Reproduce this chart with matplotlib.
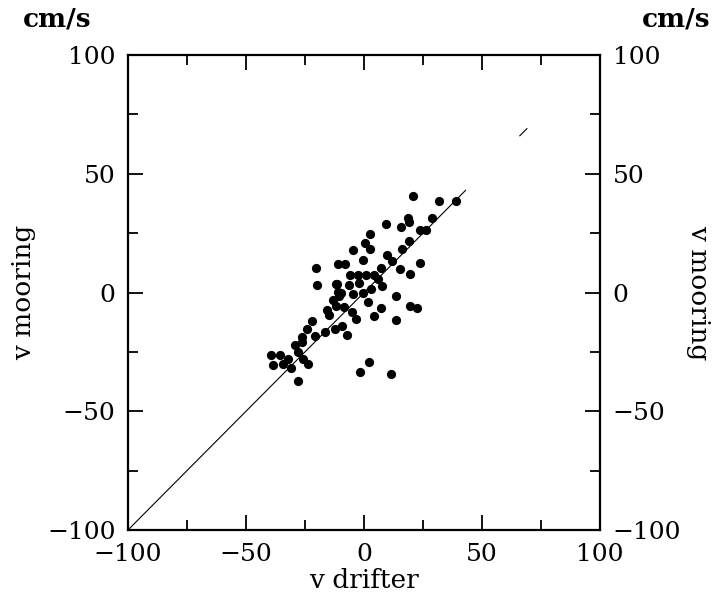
import matplotlib
matplotlib.use("Agg")
import matplotlib.pyplot as plt
from matplotlib.ticker import MultipleLocator

# Data (cm/s)
v_drifter = [20.7, 31.6, 39.1, 29.0, 18.7, 15.8, 19.0, 23.5, 26.3, 9.2,
             2.5, 0.6, 2.4, -0.3, -4.6, 18.9, 16.0, 9.6, 11.8, 23.6,
             15.4, 19.4, -11.0, -8.1, -20.5, -20.0, -6.1, -2.6, 0.9, 4.4,
             7.3, 5.8, 7.7, -11.8, -9.8, -4.8, -0.6, 2.9, 13.5, 19.4,
             22.6, 7.1, 4.2, 13.6, -12.0, -8.5, -14.9, -5.0, -3.6, -9.3,
             -7.2, -12.2, -16.5, -22.0, -24.1, -26.4, -29.3, -27.9, -25.9, -23.9,
             -39.3, -35.6, -32.2, -38.6, -34.4, -30.8, -27.9, -1.7, 2.3, 11.4,
             -11.4, -11.0, -26.4, -20.8, -13.0, -6.5, -2.0, 1.5, -15.5, -10.5]
v_mooring = [40.6, 38.5, 38.5, 31.5, 31.5, 27.4, 29.9, 26.4, 26.4, 28.8,
             24.6, 20.8, 18.3, 13.9, 17.9, 21.5, 18.3, 15.9, 13.2, 12.5,
             9.7, 7.6, 11.8, 12.2, 10.4, 3.2, 7.2, 7.2, 7.2, 7.2,
             10.4, 5.6, 2.8, 3.5, -0.3, -0.7, -0.3, 1.4, -1.4, -5.6,
             -6.7, -6.7, -9.7, -11.5, -5.6, -6.2, -9.4, -8.3, -11.1, -13.9,
             -18.1, -15.3, -16.7, -11.8, -15.3, -18.8, -22.2, -25.0, -27.8, -30.3,
             -26.4, -26.4, -27.8, -30.6, -29.9, -31.9, -37.2, -33.3, -29.2, -34.4,
             3.5, 0.1, -20.8, -18.2, -3.0, 3.0, 4.0, -4.0, -7.5, -1.5]

# 1:1 reference line pieces
line1_x = [-100, 43]
line2_x = [66, 69]

ticks = [-100, -50, 0, 50, 100]

plt.rcParams['font.family'] = ['DejaVu Serif']
fig = plt.figure(figsize=(7.23, 6.02), dpi=100)
ax = fig.add_axes([0.177, 0.1196, 0.653, 0.789])

ax.plot(line1_x, line1_x, color='black', lw=0.8)
ax.plot(line2_x, line2_x, color='black', lw=0.8)
ax.scatter(v_drifter, v_mooring, s=44, color='black', zorder=3, linewidths=0)

ax.set_xlim(-100, 100)
ax.set_ylim(-100, 100)
ax.set_xticks(ticks)
ax.set_yticks(ticks)
ax.xaxis.set_minor_locator(MultipleLocator(25))
ax.yaxis.set_minor_locator(MultipleLocator(25))
ax.tick_params(which='both', direction='in', top=True, right=True,
               labelright=True, width=1.3, labelsize=18)
ax.tick_params(axis='y', which='both', pad=9)
ax.tick_params(axis='x', which='both', pad=9)
ax.tick_params(which='major', length=11)
ax.tick_params(which='minor', length=7)
for sp in ax.spines.values():
    sp.set_linewidth(1.6)

ax.set_xlabel('v drifter', fontsize=19, labelpad=2)
ax.set_ylabel('v mooring', fontsize=19, labelpad=8)
ax2 = ax.secondary_yaxis('right')
ax2.set_yticks([])
ax2.set_ylabel('v mooring', fontsize=19, rotation=270, labelpad=80)
ax2.spines['right'].set_visible(False)

fig.text(0.079, 0.968, 'cm/s', fontsize=19, ha='center', va='center', weight='bold')
fig.text(0.935, 0.968, 'cm/s', fontsize=19, ha='center', va='center', weight='bold')

fig.savefig('out.png', dpi=100)
